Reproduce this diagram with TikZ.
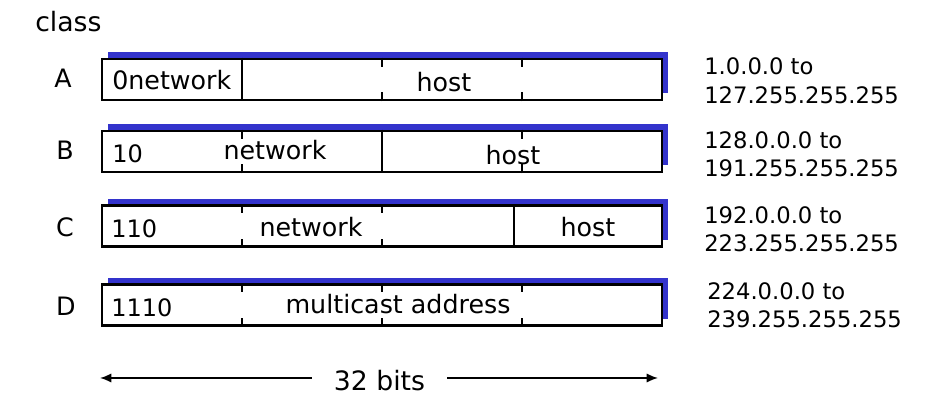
\documentclass[tikz,border=0pt]{standalone}
\usepackage{fontspec}
\setmainfont{DejaVu Sans}
\usepackage{tikz}
\usetikzlibrary{positioning,arrows.meta,shadows,calc}
\definecolor{rim}{RGB}{51,51,204}
\newcommand{\notches}[2]{%
  \draw[notch] ([xshift=#2]#1.north) -- ++(0,9);
  \draw[notch] ([xshift=#2]#1.south) -- ++(0,-9);}

\begin{document}
\begin{tikzpicture}[
  x=0.75pt,y=-0.75pt,
  font=\fontsize{17pt}{21.4pt}\selectfont,
  field/.style={draw,line width=1.9pt,fill=white,minimum width=420pt,
                minimum height=30.75pt,inner sep=0pt,
                general shadow={shadow xshift=4.5pt,shadow yshift=5pt,fill=rim}},
  divider/.style={line width=0.8pt},
  notch/.style={line width=0.8pt},
  txt/.style={inner sep=0pt,anchor=base},
  word/.style={txt,font=\fontsize{19pt}{23pt}\selectfont},
  bits/.style={txt,anchor=base west,font=\fontsize{18pt}{22pt}\selectfont},
  addrspan/.style={inner sep=0pt,anchor=base west,align=left},
  ar/.style={-{Latex[length=8.5pt,width=7pt]},line width=1.3pt},
]
\useasboundingbox (0,0) rectangle (951,409);

\node[word,anchor=base west,font=\fontsize{20pt}{24pt}\selectfont] (cls) at (35,32) {class};

% the four address formats
\node[field] (boxA) at (382,79.5) {};
\node[field] (boxB) at (382,151.5) {};
\node[field] (boxC) at (382,226) {};
\node[field] (boxD) at (382,305) {};

\node[word] (lblA) at (63,88) {A};
\node[word] (lblB) at (65,160) {B};
\node[word] (lblC) at (65,237) {C};
\node[word] (lblD) at (66,316) {D};

% byte boundaries
\draw[divider] ([xshift=-105pt]boxA.north) -- ([xshift=-105pt]boxA.south);
\notches{boxA}{0pt}
\notches{boxA}{105pt}

\notches{boxB}{-105pt}
\draw[divider] (boxB.north) -- (boxB.south);
\notches{boxB}{105pt}

\notches{boxC}{-105pt}
\notches{boxC}{0pt}
\draw[divider] ([xshift=99pt]boxC.north) -- ([xshift=99pt]boxC.south);

\notches{boxD}{-105pt}
\notches{boxD}{0pt}
\notches{boxD}{105pt}

% field contents
\node[word,anchor=base west] (pfxA) at (112,90) {0network};
\node[word] (hostA) at (444,92) {host};

\node[bits] (pfxB) at (112,163) {10};
\node[word] (netB) at (275,160) {network};
\node[word] (hostB) at (513,165) {host};

\node[bits] (pfxC) at (111,237.5) {110};
\node[word] (netC) at (311,237) {network};
\node[word] (hostC) at (588,237) {host};

\node[bits] (pfxD) at (111,316.5) {1110};
\node[word] (mcD) at (398,314) {multicast address};

% address ranges
\node[addrspan] (rngA) at (704,103.3) {1.0.0.0 to\\127.255.255.255};
\node[addrspan] (rngB) at (704,176.7) {128.0.0.0 to\\191.255.255.255};
\node[addrspan] (rngC) at (704,251.7) {192.0.0.0 to\\223.255.255.255};
\node[addrspan] (rngD) at (707,328) {224.0.0.0 to\\239.255.255.255};

% width
\node[word,font=\fontsize{20pt}{24pt}\selectfont,minimum width=101pt] (width) at (379.5,391) {32 bits};
\coordinate (lend) at (100,378);
\coordinate (rend) at (658,378);
\draw[ar] (width.west |- lend) -- (lend);
\draw[ar] (width.east |- rend) -- (rend);
\end{tikzpicture}
\end{document}
